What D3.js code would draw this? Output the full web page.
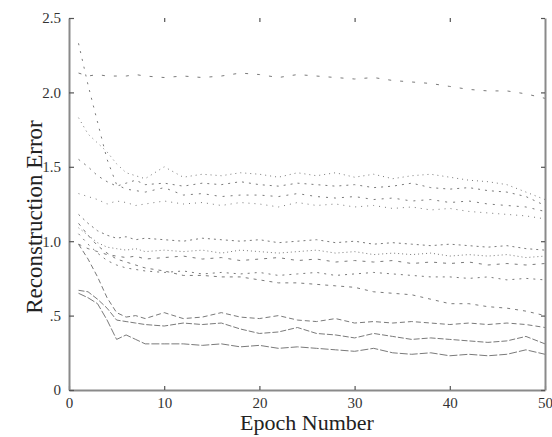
<!DOCTYPE html>
<html>
<head>
<meta charset="utf-8">
<script src="https://cdn.jsdelivr.net/npm/d3@7"></script>
<style>
    html, body {
      margin: 0;
      padding: 0;
      background: #fff;
    }
    #vis {
      width: 552px;
      height: 437px;
    }
</style>
</head>
<body>
<div id="vis"></div>
<script>
var epochs = [1,2,3,4,5,6,7,8,10,12,14,16,18,20,22,24,26,28,30,32,34,36,38,40,42,44,46,48,50];

var runA  = [2.13,2.11,2.12,2.11,2.11,2.11,2.12,2.11,2.10,2.11,2.10,2.11,2.13,2.12,2.10,2.12,2.11,2.10,2.09,2.10,2.08,2.07,2.06,2.04,2.02,2.01,2.01,1.99,1.96];
var runB  = [2.33,2.05,1.80,1.55,1.38,1.35,1.34,1.33,1.36,1.31,1.32,1.30,1.31,1.31,1.30,1.32,1.30,1.29,1.30,1.28,1.29,1.27,1.28,1.26,1.27,1.25,1.24,1.23,1.20];
var runC  = [1.83,1.72,1.66,1.60,1.52,1.46,1.44,1.42,1.50,1.43,1.45,1.44,1.46,1.45,1.43,1.46,1.44,1.46,1.43,1.45,1.42,1.44,1.45,1.43,1.41,1.40,1.38,1.33,1.28];
var runD  = [1.55,1.50,1.44,1.40,1.37,1.39,1.41,1.38,1.39,1.37,1.39,1.38,1.40,1.38,1.37,1.39,1.38,1.37,1.38,1.36,1.37,1.39,1.36,1.35,1.36,1.34,1.33,1.30,1.24];
var runE  = [1.32,1.30,1.28,1.25,1.27,1.26,1.24,1.25,1.27,1.25,1.26,1.24,1.26,1.25,1.23,1.26,1.24,1.25,1.23,1.24,1.22,1.23,1.21,1.22,1.20,1.19,1.18,1.17,1.15];
var runF  = [1.18,1.12,1.07,1.04,1.02,1.03,1.01,1.02,1.01,1.00,1.02,1.01,1.00,1.01,0.99,1.00,1.01,0.99,1.00,0.98,0.99,0.98,0.97,0.98,0.97,0.96,0.97,0.95,0.94];
var runG  = [1.09,1.04,0.99,0.96,0.95,0.94,0.95,0.93,0.94,0.93,0.94,0.92,0.94,0.93,0.92,0.93,0.94,0.92,0.93,0.91,0.92,0.91,0.92,0.90,0.91,0.90,0.91,0.89,0.90];
var runH  = [0.98,0.95,0.93,0.91,0.90,0.89,0.90,0.88,0.89,0.90,0.88,0.89,0.87,0.88,0.89,0.87,0.88,0.86,0.87,0.86,0.87,0.85,0.86,0.85,0.86,0.84,0.85,0.84,0.85];
var runI  = [1.05,0.98,0.92,0.87,0.84,0.82,0.81,0.80,0.79,0.80,0.78,0.79,0.78,0.79,0.77,0.78,0.79,0.77,0.78,0.79,0.78,0.77,0.76,0.76,0.75,0.76,0.74,0.75,0.74];
var runJ  = [1.12,1.04,0.97,0.92,0.88,0.86,0.84,0.82,0.80,0.77,0.77,0.76,0.76,0.74,0.72,0.72,0.71,0.70,0.69,0.66,0.65,0.64,0.61,0.58,0.58,0.56,0.55,0.53,0.50];
var runK  = [0.98,0.88,0.76,0.62,0.52,0.49,0.50,0.48,0.52,0.48,0.49,0.52,0.49,0.48,0.50,0.47,0.46,0.48,0.45,0.46,0.45,0.46,0.45,0.44,0.45,0.44,0.45,0.44,0.42];
var runL  = [0.67,0.66,0.61,0.55,0.47,0.46,0.45,0.44,0.43,0.45,0.44,0.45,0.41,0.38,0.39,0.42,0.38,0.37,0.35,0.38,0.36,0.34,0.35,0.34,0.33,0.32,0.33,0.36,0.31];
var runM  = [0.65,0.62,0.58,0.47,0.34,0.37,0.34,0.31,0.31,0.31,0.30,0.31,0.29,0.30,0.28,0.29,0.28,0.27,0.26,0.28,0.25,0.24,0.25,0.23,0.24,0.23,0.24,0.27,0.24];

var runs = [runA, runB, runC, runD, runE, runF, runG, runH, runI, runJ, runK, runL, runM];
var dashes = ["3,9", "2,6", "1,4", "2,5", "1,5", "2,4", "1,3", "3,6", "2,5", "3,5", "5,3", "6,2", "8,2"];

var xTicks = [0, 10, 20, 30, 40, 50];
var yTicks = [0, 0.5, 1.0, 1.5, 2.0, 2.5];
var yTickLabels = ["0", ".5", "1.0", "1.5", "2.0", "2.5"];

var margin = { top: 18, right: 7, bottom: 47, left: 69 },
    width = 552 - margin.left - margin.right,
    height = 437 - margin.top - margin.bottom;

var svg = d3.select("#vis")
    .append("svg")
    .attr("width", 552)
    .attr("height", 437)
    .append("g")
    .attr("transform", "translate(" + margin.left + "," + margin.top + ")");

var x = d3.scaleLinear().domain([0, 50]).range([0, width]);
var y = d3.scaleLinear().domain([0, 2.5]).range([height, 0]);

var serif = "Times, 'Times New Roman', 'Liberation Serif', 'DejaVu Serif', serif";

// lines
var line = d3.line()
    .x(function (d, i) { return x(epochs[i]); })
    .y(function (d) { return y(d); });

svg.selectAll("path.run")
    .data(runs)
    .enter()
    .append("path")
    .attr("class", "run")
    .attr("d", line)
    .attr("fill", "none")
    .attr("stroke", "#7a7a7a")
    .attr("stroke-width", 1)
    .attr("stroke-dasharray", function (d, i) { return dashes[i]; });

// bottom axis
var xAxis = svg.append("g")
    .attr("transform", "translate(0," + height + ")")
    .call(d3.axisBottom(x).tickValues(xTicks).tickSizeInner(-4).tickSizeOuter(0).tickPadding(7));

// left axis
var yAxis = svg.append("g")
    .call(d3.axisLeft(y).tickValues(yTicks)
        .tickFormat(function (d, i) { return yTickLabels[i]; })
        .tickSizeInner(-5).tickSizeOuter(0).tickPadding(8));

// right axis, ticks only
var rAxis = svg.append("g")
    .attr("transform", "translate(" + width + ",0)")
    .call(d3.axisRight(y).tickValues(yTicks).tickFormat("").tickSizeInner(-4).tickSizeOuter(0));

// top ticks without the spine
var tAxis = svg.append("g")
    .call(d3.axisTop(x).tickValues(xTicks.slice(1, 5)).tickFormat("").tickSizeInner(-4).tickSizeOuter(0));
tAxis.select("path.domain").remove();

svg.selectAll("path.domain")
    .attr("stroke", "#8a8a8a")
    .attr("stroke-width", 2);

svg.selectAll(".tick line")
    .attr("stroke", "#555")
    .attr("stroke-width", 1.2);

svg.selectAll(".tick text")
    .style("font-family", serif)
    .style("font-size", "15px")
    .attr("fill", "#333");

// axis titles
svg.append("text")
    .attr("x", width / 2)
    .attr("y", height + 40)
    .attr("text-anchor", "middle")
    .style("font-family", serif)
    .style("font-size", "22px")
    .attr("fill", "#222")
    .text("Epoch Number");

svg.append("text")
    .attr("transform", "translate(-27," + (height / 2 + 13) + ") rotate(-90)")
    .attr("text-anchor", "middle")
    .style("font-family", serif)
    .style("font-size", "23px")
    .attr("fill", "#222")
    .text("Reconstruction Error");
</script>
</body>
</html>
